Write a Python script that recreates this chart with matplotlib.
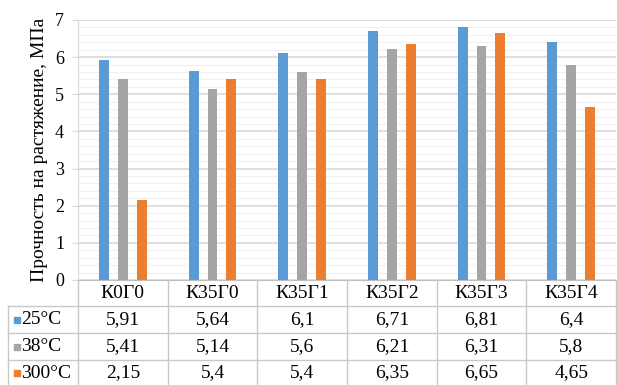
import matplotlib.pyplot as plt
from matplotlib.ticker import MultipleLocator
import numpy as np

categories = ['К0Г0', 'К35Г0', 'К35Г1', 'К35Г2', 'К35Г3', 'К35Г4']
series_names = ['25°C', '38°C', '300°C']
t25 = [5.91, 5.64, 6.1, 6.71, 6.81, 6.4]
t38 = [5.41, 5.14, 5.6, 6.21, 6.31, 5.8]
t300 = [2.15, 5.4, 5.4, 6.35, 6.65, 4.65]
colors = ['#5B9BD5', '#A5A5A5', '#ED7D31']

plt.rcParams['font.family'] = ['Liberation Serif', 'DejaVu Serif']

W, H = 617, 385
fig = plt.figure(figsize=(W / 100, H / 100), dpi=100)

# plot area in pixels
left, right, top, bottom = 78, 616, 20, 280
ax = fig.add_axes([left / W, 1 - bottom / H, (right - left) / W, (bottom - top) / H])

x = np.arange(len(categories))
width = 0.11
step = 0.21
for i, (vals, c) in enumerate(zip([t25, t38, t300], colors)):
    ax.bar(x + (i - 1) * step, vals, width, color=c, zorder=3)

ax.set_xlim(-0.5, len(categories) - 0.5)
ax.set_ylim(0, 7)
ax.yaxis.set_major_locator(MultipleLocator(1))
ax.yaxis.set_minor_locator(MultipleLocator(0.2))
ax.grid(axis='y', which='major', color='#D9D9D9', linewidth=1.2, zorder=0)
ax.grid(axis='y', which='minor', color='#F0F0F0', linewidth=0.8, zorder=0)
ax.set_xticks([])
ax.tick_params(axis='y', which='major', length=4, color='#D9D9D9', labelsize=13, pad=6)
ax.tick_params(axis='y', which='minor', length=0)
for s in ['top', 'right']:
    ax.spines[s].set_visible(False)
ax.spines['left'].set_color('#D9D9D9')
ax.spines['bottom'].set_color('#BFBFBF')
ax.set_ylabel('Прочность на растяжение, МПа', fontsize=14, labelpad=5)

# data table below the plot
tab = fig.add_axes([0, 0, 1, 1 - bottom / H])
tab.set_xlim(0, W)
tab.set_ylim(H, bottom)
tab.axis('off')
col_w = (right - left) / len(categories)
row_edges = [bottom, 306, 333, 360, 386]
lc = '#C8C8C8'
for k in range(len(categories) + 1):
    xx = left + k * col_w
    tab.plot([xx, xx], [bottom, H], color=lc, lw=1)
tab.plot([8, 8], [row_edges[1], H], color=lc, lw=1)
tab.plot([8, right], [row_edges[1], row_edges[1]], color=lc, lw=1)
for y in row_edges[2:]:
    tab.plot([8, right], [y, y], color=lc, lw=1)
for k, cat in enumerate(categories):
    tab.text(left + (k + 0.5) * col_w, (row_edges[0] + row_edges[1]) / 2 + 1, cat,
             ha='center', va='center', fontsize=14)
for r, (name, vals, c) in enumerate(zip(series_names, [t25, t38, t300], colors)):
    yc = (row_edges[r + 1] + row_edges[r + 2]) / 2
    tab.plot([16.5], [yc], marker='s', markersize=5, color=c, linestyle='none')
    tab.text(21, yc, name, ha='left', va='center', fontsize=14)
    for k, v in enumerate(vals):
        tab.text(left + (k + 0.5) * col_w, yc, f'{v:g}'.replace('.', ','),
                 ha='center', va='center', fontsize=14)

fig.savefig('out.png', dpi=100)
